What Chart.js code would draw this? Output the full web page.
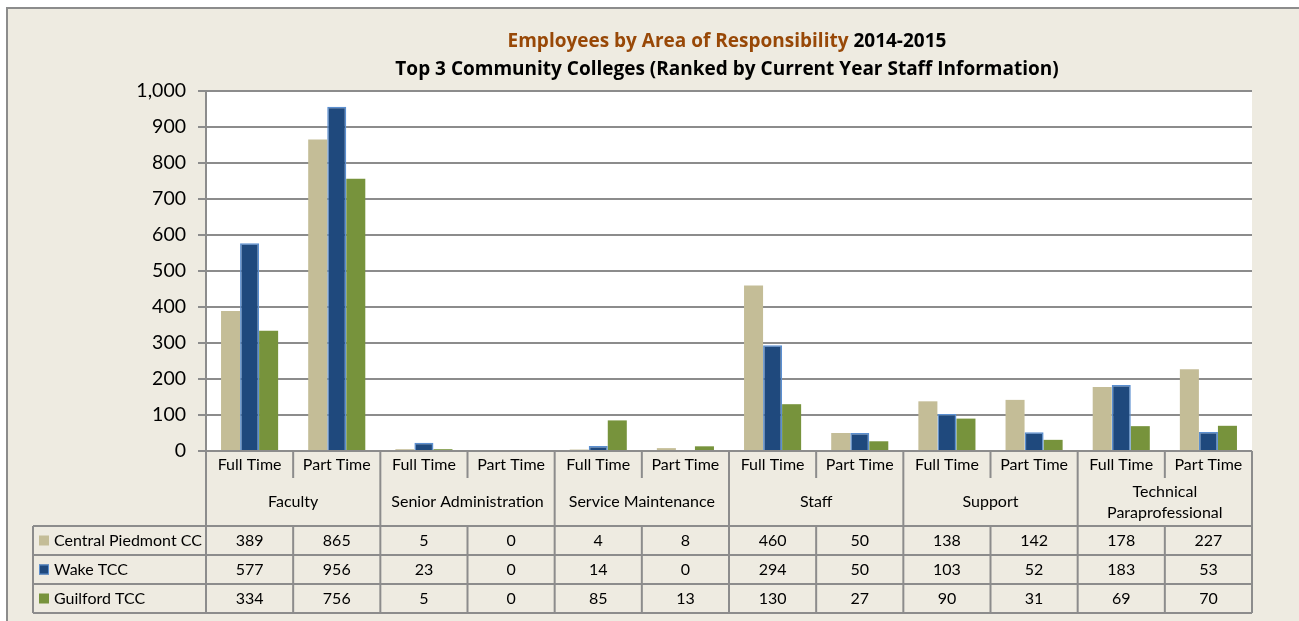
<!DOCTYPE html>
<html lang="en">
<head>
  <meta charset="UTF-8">
  <title>Employees by Area of Responsibility 2014-2015</title>
  <script src="https://cdn.jsdelivr.net/npm/chart.js"></script>
  <style>
    html, body { margin: 0; padding: 0; background: #fff; }
    .wrap { width: 1299px; height: 621px; position: relative; }
  </style>
</head>
<body>
<div class="wrap"><canvas id="chart" width="1299" height="621"></canvas></div>

<script>
  const groups = ["Faculty", "Senior Administration", "Service Maintenance", "Staff", "Support", ["Technical", "Paraprofessional"]];
  const subLabels = ["Full Time", "Part Time"];
  const colleges = ["Central Piedmont CC", "Wake TCC", "Guilford TCC"];
  const centralPiedmont = [389, 865, 5, 0, 4, 8, 460, 50, 138, 142, 178, 227];
  const wakeTcc = [577, 956, 23, 0, 14, 0, 294, 50, 103, 52, 183, 53];
  const guilfordTcc = [334, 756, 5, 0, 85, 13, 130, 27, 90, 31, 69, 70];
  const yTicks = [0, 100, 200, 300, 400, 500, 600, 700, 800, 900, 1000];

  const fills = ['#c4bd97', '#1f497d', '#77933c'];
  const borders = ['#c4bd97', '#5b8fd0', '#77933c'];
  const FONT = 'Lato, "Noto Sans", sans-serif';
  const TITLE_FONT = '"Open Sans", Lato, sans-serif';
  const LINE = '#8c8c8c';

  // one x category per Full/Part column
  const categories = [];
  groups.forEach(g => subLabels.forEach(s => categories.push(s)));
  const series = [centralPiedmont, wakeTcc, guilfordTcc];

  const frameAndTable = {
    id: 'frameAndTable',
    beforeDraw(chart) {
      const c = chart.ctx, a = chart.chartArea;
      c.save();
      c.fillStyle = '#eeebe1';
      c.fillRect(7, 8, chart.width, chart.height);
      c.strokeStyle = LINE; c.lineWidth = 2;
      c.beginPath(); c.moveTo(7, chart.height); c.lineTo(7, 8); c.lineTo(chart.width, 8); c.stroke();
      c.fillStyle = '#fff';
      c.fillRect(a.left, a.top, a.right - a.left, a.bottom - a.top);
      c.restore();
    },
    afterDraw(chart) {
      const c = chart.ctx, a = chart.chartArea, x = chart.scales.x;
      const step = x.getPixelForValue(1) - x.getPixelForValue(0);
      const colL = i => x.getPixelForValue(i) - step / 2;
      const n = categories.length;
      const y0 = a.bottom, y1 = y0 + 27, y2 = y0 + 75;
      const rowH = 29, rows = colleges.map((_, r) => y2 + r * rowH);
      const yEnd = y2 + colleges.length * rowH;
      const legL = 33;
      c.save();
      c.strokeStyle = LINE; c.lineWidth = 2;
      c.beginPath();
      // outer borders of the category area
      c.moveTo(a.left, y0); c.lineTo(a.left, yEnd);
      c.moveTo(colL(n), y0); c.lineTo(colL(n), yEnd);
      for (let i = 1; i < n; i++) {
        const px = colL(i);
        if (i % 2 === 0) { c.moveTo(px, y0); c.lineTo(px, yEnd); }
        else { c.moveTo(px, y0); c.lineTo(px, y1); c.moveTo(px, y2); c.lineTo(px, yEnd); }
      }
      // legend / data rows
      rows.concat([yEnd]).forEach(ry => { c.moveTo(legL, ry); c.lineTo(colL(n), ry); });
      c.moveTo(legL, y2); c.lineTo(legL, yEnd);
      c.stroke();

      c.fillStyle = '#000';
      c.font = '16px ' + FONT;
      c.textAlign = 'center'; c.textBaseline = 'middle';
      categories.forEach((s, i) => c.fillText(s, x.getPixelForValue(i), y0 + 14));
      groups.forEach((g, gi) => {
        const cx = colL(gi * 2 + 1);
        if (Array.isArray(g)) {
          c.fillText(g[0], cx, y1 + 14);
          c.fillText(g[1], cx, y1 + 35);
        } else c.fillText(g, cx, y1 + 24);
      });
      series.forEach((vals, r) => {
        const cy = rows[r] + rowH / 2;
        vals.forEach((v, i) => c.fillText(String(v), x.getPixelForValue(i), cy));
        c.fillStyle = fills[r];
        c.fillRect(legL + 6, cy - 5, 10, 10);
        if (r === 1) { c.strokeStyle = borders[r]; c.lineWidth = 1; c.strokeRect(legL + 6.5, cy - 4.5, 9, 9); }
        c.fillStyle = '#000';
        c.textAlign = 'left';
        c.fillText(colleges[r], legL + 21, cy);
        c.textAlign = 'center';
      });

      // title
      const cx = (a.left + a.right) / 2 - 2;
      c.font = 'bold 19px ' + TITLE_FONT;
      const t1a = 'Employees by Area of Responsibility', t1b = ' 2014-2015';
      const w1 = c.measureText(t1a).width, w2 = c.measureText(t1b).width;
      const sx = cx - (w1 + w2) / 2;
      c.textAlign = 'left';
      c.fillStyle = '#984807'; c.fillText(t1a, sx, 42);
      c.fillStyle = '#000'; c.fillText(t1b, sx + w1, 42);
      c.textAlign = 'center';
      c.fillText('Top 3 Community Colleges (Ranked by Current Year Staff Information)', cx, 70);
      c.restore();
    }
  };

  new Chart(document.getElementById('chart'), {
    type: 'bar',
    data: {
      labels: categories,
      datasets: series.map((vals, i) => ({
        label: colleges[i],
        data: vals,
        backgroundColor: fills[i],
        borderColor: borders[i],
        borderWidth: i === 1 ? 1.5 : 0,
        barPercentage: 1,
        categoryPercentage: 0.655
      }))
    },
    options: {
      responsive: false,
      animation: false,
      layout: { padding: { left: 0, right: 47, top: 91, bottom: 170 } },
      plugins: { legend: { display: false }, title: { display: false }, tooltip: { enabled: false } },
      scales: {
        x: { display: false },
        y: {
          min: 0, max: 1000,
          afterFit(scale) { scale.width = 206; },
          afterBuildTicks(scale) { scale.ticks = yTicks.map(v => ({ value: v })); },
          ticks: {
            color: '#000', padding: 12,
            font: { family: FONT, size: 19.5 },
            callback: v => v.toLocaleString('en-US')
          },
          grid: { color: LINE, lineWidth: 2, tickLength: 8 },
          border: { color: LINE, width: 2 }
        }
      }
    },
    plugins: [frameAndTable]
  });
</script>
</body>
</html>
